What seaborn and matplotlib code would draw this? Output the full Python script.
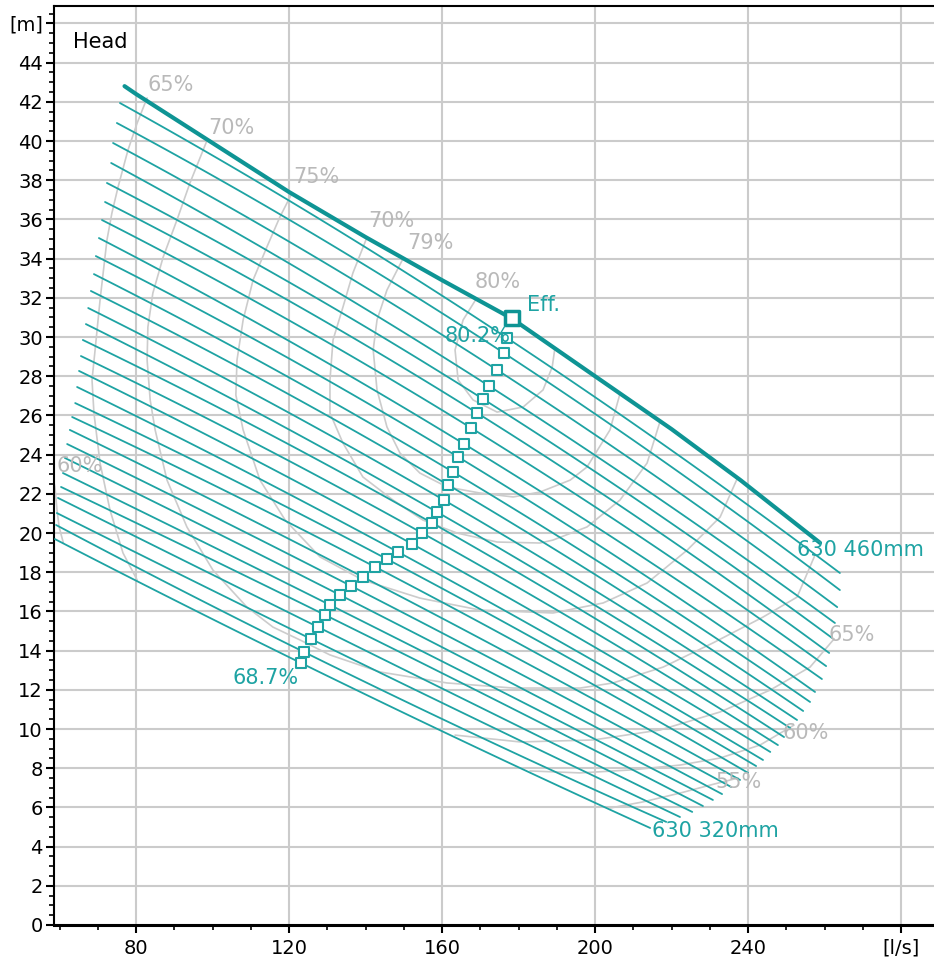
"""
Pump chart: head vs flow for impeller diameters 320-460 mm,
with iso-efficiency curves and the best-efficiency point of each diameter.
"""
import numpy as np
import pandas as pd
import matplotlib
matplotlib.use("Agg")
import matplotlib.pyplot as plt
import seaborn as sns

# --- data --------------------------------------------------------------------
# impeller diameters, top curve first
DIAMETERS = [460, 455, 450, 445, 440, 435, 430, 425, 420, 415, 410, 405, 400, 395, 390,
             385, 380, 375, 370, 365, 360, 355, 350, 345, 340, 335, 330, 325, 320]

# left end of each curve [l/s], [m]
Q_START = [77.0, 75.8, 75.0, 74.0, 73.5, 72.4, 71.9, 71.1, 70.3, 69.5, 69.0, 68.2, 67.5, 66.9, 66.1,
           65.6, 65.1, 64.6, 64.1, 63.3, 62.7, 62.0, 61.4, 60.9, 60.4, 59.6, 59.3, 59.1, 58.8]
H_START = [42.8, 41.94, 40.92, 39.90, 38.88, 37.86, 36.89, 35.97, 35.05, 34.13, 33.21, 32.35, 31.48, 30.66, 29.85,
           29.03, 28.27, 27.45, 26.63, 25.92, 25.26, 24.54, 23.83, 23.06, 22.35, 21.79, 21.02, 20.41, 19.69]

# best efficiency point of each curve
Q_EFF = [178.2, 177.0, 176.2, 174.4, 172.3, 170.7, 169.2, 167.6, 165.8, 164.2, 162.9, 161.6, 160.5, 158.7, 157.4,
         154.8, 152.2, 148.5, 145.6, 142.5, 139.3, 136.2, 133.3, 130.7, 129.4, 127.6, 125.8, 123.9, 123.1]
H_EFF = [30.95, 29.95, 29.18, 28.32, 27.50, 26.84, 26.12, 25.36, 24.54, 23.88, 23.11, 22.45, 21.68, 21.07, 20.51,
         20.00, 19.44, 19.03, 18.67, 18.27, 17.76, 17.30, 16.84, 16.33, 15.82, 15.20, 14.59, 13.93, 13.37]

# right end of each curve
Q_END = [258.8, 264.0, 264.0, 263.3, 262.7, 262.0, 261.2, 260.4, 259.3, 257.5, 256.2, 254.4, 252.8, 251.0, 249.4,
         247.8, 245.8, 243.9, 242.1, 240.0, 237.9, 235.6, 233.2, 230.8, 228.2, 225.4, 222.2, 218.6, 214.4]
H_END = [19.5, 17.96, 17.09, 16.22, 15.41, 14.64, 13.88, 13.21, 12.55, 11.89, 11.38, 10.92, 10.46, 10.05, 9.59,
         9.18, 8.83, 8.42, 8.11, 7.76, 7.40, 7.04, 6.68, 6.38, 6.07, 5.77, 5.51, 5.26, 4.95]

# the highlighted 460 mm curve, read at more points
Q_TOP = [77.0, 80, 100, 120, 140, 160, 178.2, 200, 220, 238, 258.8]
H_TOP = [42.8, 42.4, 39.9, 37.4, 35.1, 32.9, 30.95, 28.0, 25.3, 22.7, 19.5]

# iso-efficiency curves
Q_80 = [169.1, 165.5, 163.4, 164.2, 168.1, 174.4, 181.2, 186.4, 188.8, 189.5]
H_80 = [32.0, 30.87, 29.34, 27.81, 26.79, 26.17, 26.43, 27.30, 28.47, 29.44]

Q_79 = [149.8, 145.6, 143.0, 142.0, 143.0, 145.6, 149.0, 154.2, 161.3, 169.9, 178.6, 185.6, 193.5, 197.9,
        203.9, 206.5]
H_79 = [34.0, 32.40, 30.87, 29.34, 27.30, 25.41, 24.08, 23.06, 22.35, 22.04, 21.84, 22.09, 22.70, 23.37,
        25.26, 27.1]

Q_70B = [140.4, 136.7, 134.1, 131.5, 130.7, 130.7, 134.1, 139.3, 147.2, 155.0, 163.9, 174.4, 185.6, 189.0,
         197.9, 206.5, 213.6, 217.0]
H_70B = [35.1, 33.27, 31.53, 29.85, 27.81, 26.12, 24.59, 22.86, 21.68, 20.66, 20.0, 19.54, 19.49, 19.64,
         20.31, 21.68, 23.57, 25.7]

Q_75 = [120.8, 117.6, 114.2, 110.6, 108.0, 106.4, 106.1, 108.0, 112.4, 119.0, 128.1, 139.3, 154.2, 169.9,
        189.0, 202.1, 213.6, 224.1, 232.7, 237.1]
H_75 = [37.35, 36.12, 34.59, 32.91, 30.87, 28.83, 27.04, 25.26, 22.70, 20.66, 18.78, 17.60, 16.68, 16.07,
        15.92, 16.43, 17.45, 19.13, 20.82, 22.75]

Q_70 = [98.6, 94.1, 90.7, 87.1, 84.4, 83.1, 82.9, 83.7, 85.0, 88.1, 93.3, 100.1, 109.0, 115.8, 122.9,
        130.7, 143.8, 161.3, 178.6, 196.1, 204.7, 217.8, 230.8, 243.9, 252.8, 257.5]
H_70 = [40.05, 37.86, 35.97, 34.08, 32.24, 30.51, 28.83, 26.79, 25.26, 22.70, 20.31, 18.11, 16.22, 15.20,
        14.54, 13.78, 12.91, 12.35, 12.09, 12.09, 12.35, 13.16, 14.39, 15.71, 16.73, 18.88]

Q_65L = [82.9, 80.3, 77.9, 75.3, 73.7, 72.4, 70.6, 69.3, 68.5, 69.0, 70.6, 73.2, 76.6, 80.3]
H_65L = [42.2, 40.92, 39.54, 37.65, 36.33, 34.95, 31.89, 29.34, 27.81, 26.12, 23.57, 21.17, 18.98, 17.60]

Q_65R = [163.4, 180.4, 199.5, 217.0, 232.7, 245.8, 256.2, 262.5]
H_65R = [9.69, 9.34, 9.44, 9.95, 10.87, 11.99, 13.16, 14.6]

Q_60R = [183.0, 196.1, 209.2, 222.2, 232.7, 243.1, 252.0]
H_60R = [7.86, 7.76, 7.91, 8.16, 8.52, 9.18, 10.2]

Q_60L = [57.5, 58.8, 59.35, 59.9, 61.0]
H_60L = [23.5, 22.35, 21.17, 20.31, 19.5]

Q_55R = [204.0, 212.5, 222.2, 230.1, 237.4]
H_55R = [5.97, 6.28, 6.73, 7.14, 7.5]

TEAL = "#1ea3a3"
TEAL_DARK = "#0e9494"
GREY_LINE = "#cccccc"
GREY_TEXT = "#b9b9b9"


def build_curves() -> pd.DataFrame:
    """Smooth line through start, BEP and end point of every thin curve."""
    parts = []
    for i in range(1, len(DIAMETERS)):
        qs = [Q_START[i], Q_EFF[i], Q_END[i]]
        hs = [H_START[i], H_EFF[i], H_END[i]]
        coef = np.polyfit(qs, hs, 2)
        qq = np.linspace(qs[0], qs[-1], 60)
        parts.append(pd.DataFrame({"Q": qq, "H": np.polyval(coef, qq), "D": DIAMETERS[i]}))
    return pd.concat(parts, ignore_index=True)


def build_contours() -> pd.DataFrame:
    sets = [("80", Q_80, H_80), ("79", Q_79, H_79), ("70b", Q_70B, H_70B), ("75", Q_75, H_75),
            ("70", Q_70, H_70), ("65l", Q_65L, H_65L), ("65r", Q_65R, H_65R),
            ("60r", Q_60R, H_60R), ("60l", Q_60L, H_60L), ("55r", Q_55R, H_55R)]
    parts = [pd.DataFrame({"Q": q, "H": h, "level": name}) for name, q, h in sets]
    return pd.concat(parts, ignore_index=True)


sns.set_style("white")
plt.rcParams["font.family"] = ["DejaVu Sans"]

fig = plt.figure(figsize=(9.34, 9.68), dpi=100)
ax = fig.add_axes([54 / 934, 43 / 968, 880 / 934, 919 / 968])

contours = build_contours()
sns.lineplot(data=contours, x="Q", y="H", units="level", estimator=None, sort=False,
             color=GREY_LINE, lw=1.2, ax=ax, zorder=2)

curves = build_curves()
sns.lineplot(data=curves, x="Q", y="H", units="D", estimator=None, sort=False,
             color=TEAL, lw=1.3, ax=ax, zorder=3)
sns.lineplot(x=Q_TOP, y=H_TOP, sort=False, color=TEAL_DARK, lw=3.0, ax=ax, zorder=4)

# BEP markers
sns.scatterplot(x=Q_EFF[1:], y=H_EFF[1:], marker="s", s=62, facecolor="white",
                edgecolor=TEAL, linewidth=1.5, ax=ax, zorder=5)
sns.scatterplot(x=Q_EFF[:1], y=H_EFF[:1], marker="s", s=100, facecolor="white",
                edgecolor=TEAL_DARK, linewidth=2.5, ax=ax, zorder=6)

# efficiency labels
fs_tick = 14
fs = 15
for txt, q, h in [("65%", 82.9, 42.86), ("70%", 98.8, 40.66), ("75%", 121.0, 38.16),
                  ("70%", 140.7, 35.92), ("79%", 150.8, 34.80), ("80%", 168.6, 32.81),
                  ("65%", 260.9, 14.8), ("60%", 248.9, 9.8), ("55%", 231.4, 7.3)]:
    ax.text(q, h, txt, color=GREY_TEXT, fontsize=fs, ha="left", va="center", zorder=7)
ax.text(71.4, 23.42, "60%", color=GREY_TEXT, fontsize=fs, ha="right", va="center",
        zorder=7, clip_on=True)

for txt, q, h in [("Eff.", 182.2, 31.63), ("80.2%", 160.8, 30.05), ("68.7%", 105.1, 12.6),
                  ("630 460mm", 252.8, 19.13), ("630 320mm", 214.9, 4.80)]:
    ax.text(q, h, txt, color=TEAL, fontsize=fs, ha="left", va="center", zorder=7)
ax.text(63.5, 45.05, "Head", color="black", fontsize=fs, ha="left", va="center", zorder=7)

# axes
ax.set_xlim(58.56, 288.6)
ax.set_ylim(0, 46.89)
ax.set_xticks([80, 120, 160, 200, 240, 280])
ax.set_xticklabels(["80", "120", "160", "200", "240", "[l/s]"])
ax.set_xticks(np.arange(60, 290, 10), minor=True)
yt = np.arange(0, 47, 2)
ax.set_yticks(yt)
ax.set_yticklabels([str(v) for v in yt[:-1]] + ["[m]"])
ax.set_yticks(np.arange(0, 47, 0.5), minor=True)
ax.set_xlabel("")
ax.set_ylabel("")

ax.grid(True, which="major", color="#cbcbcb", lw=1.5)
ax.set_axisbelow(True)
ax.tick_params(axis="both", which="major", direction="out", length=6, width=1.5,
               labelsize=fs_tick, colors="black", pad=2)
ax.tick_params(axis="both", which="minor", direction="out", length=3.5, width=1.2,
               colors="black")
ax.tick_params(axis="x", which="major", pad=4)
ax.tick_params(left=True, bottom=True, which="both")

for side in ["left", "top"]:
    ax.spines[side].set_color("black")
    ax.spines[side].set_linewidth(1.5)
ax.spines["bottom"].set_color("black")
ax.spines["bottom"].set_linewidth(2.2)
ax.spines["right"].set_visible(False)

fig.savefig("out.png", dpi=100)
plt.close(fig)
